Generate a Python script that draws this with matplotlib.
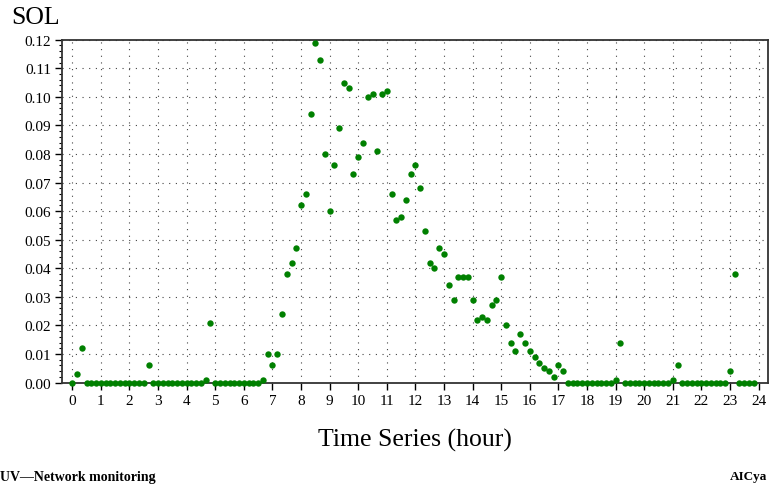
import numpy as np
import matplotlib
matplotlib.use("Agg")
import matplotlib.pyplot as plt
from matplotlib.ticker import MultipleLocator

# SOL readings every 10 minutes, one row per hour (6 per row)
sol = [
    0.000, 0.003, 0.012, 0.000, 0.000, 0.000,   # 0h
    0.000, 0.000, 0.000, 0.000, 0.000, 0.000,   # 1h
    0.000, 0.000, 0.000, 0.000, 0.006, 0.000,   # 2h
    0.000, 0.000, 0.000, 0.000, 0.000, 0.000,   # 3h
    0.000, 0.000, 0.000, 0.000, 0.001, 0.021,   # 4h
    0.000, 0.000, 0.000, 0.000, 0.000, 0.000,   # 5h
    0.000, 0.000, 0.000, 0.000, 0.001, 0.010,   # 6h
    0.006, 0.010, 0.024, 0.038, 0.042, 0.047,   # 7h
    0.062, 0.066, 0.094, 0.119, 0.113, 0.080,   # 8h
    0.060, 0.076, 0.089, 0.105, 0.103, 0.073,   # 9h
    0.079, 0.084, 0.100, 0.101, 0.081, 0.101,   # 10h
    0.102, 0.066, 0.057, 0.058, 0.064, 0.073,   # 11h
    0.076, 0.068, 0.053, 0.042, 0.040, 0.047,   # 12h
    0.045, 0.034, 0.029, 0.037, 0.037, 0.037,   # 13h
    0.029, 0.022, 0.023, 0.022, 0.027, 0.029,   # 14h
    0.037, 0.020, 0.014, 0.011, 0.017, 0.014,   # 15h
    0.011, 0.009, 0.007, 0.005, 0.004, 0.002,   # 16h
    0.006, 0.004, 0.000, 0.000, 0.000, 0.000,   # 17h
    0.000, 0.000, 0.000, 0.000, 0.000, 0.000,   # 18h
    0.001, 0.014, 0.000, 0.000, 0.000, 0.000,   # 19h
    0.000, 0.000, 0.000, 0.000, 0.000, 0.000,   # 20h
    0.001, 0.006, 0.000, 0.000, 0.000, 0.000,   # 21h
    0.000, 0.000, 0.000, 0.000, 0.000, 0.000,   # 22h
    0.004, 0.038, 0.000, 0.000, 0.000, 0.000,   # 23h
]
hours = np.arange(len(sol)) / 6.0  # 10 minute steps
x_ticks = list(range(0, 25))
y_ticks = [0.00, 0.01, 0.02, 0.03, 0.04, 0.05, 0.06, 0.07, 0.08, 0.09, 0.10, 0.11, 0.12]

plt.rcParams['font.family'] = ['Liberation Serif', 'DejaVu Serif']

fig = plt.figure(figsize=(7.71, 4.85), dpi=100)
ax = fig.add_axes([0.0804, 0.209, 0.9153, 0.7071])

ax.plot(hours, sol, 'o', color='#008000', markersize=4.6, markeredgewidth=0,
        clip_on=False, zorder=5)

ax.set_xlim(-0.36, 24.32)
ax.set_ylim(0, 0.12)
ax.set_xticks(x_ticks)
ax.set_yticks(y_ticks)
ax.set_yticklabels(['%.2f' % v for v in y_ticks])
ax.yaxis.set_minor_locator(MultipleLocator(0.002))

ax.grid(True, which='major', color='#444444', linestyle=(0, (1, 5)), linewidth=0.8)
ax.tick_params(axis='both', which='major', direction='out', length=5, width=1,
               labelsize=11, pad=3)
ax.tick_params(axis='y', which='minor', direction='out', length=2.5, width=0.8)
for s in ax.spines.values():
    s.set_linewidth(1.3)
    s.set_color('#333333')

ax.set_xlabel('Time Series (hour)', fontsize=18.5, labelpad=15)
fig.text(0.014, 0.962, 'SOL', fontsize=18.5, ha='left', va='center')
fig.text(0.0, 0.016, 'UV\u2014Network monitoring', fontsize=10, fontweight='bold',
         ha='left', va='center')
fig.text(0.995, 0.016, 'AICya', fontsize=9.5, fontweight='bold', ha='right', va='center')

fig.savefig('out.png', dpi=100)
